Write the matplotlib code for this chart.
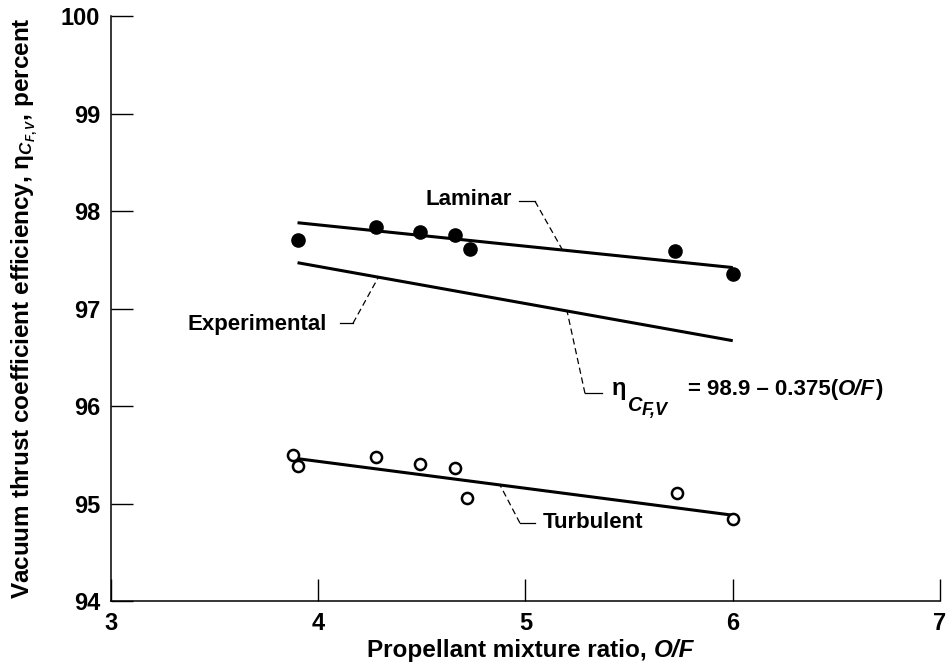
import matplotlib
matplotlib.use("Agg")
import matplotlib.pyplot as plt

plt.rcParams['font.family'] = ['Liberation Sans', 'DejaVu Sans']
plt.rcParams['font.weight'] = 'bold'
plt.rcParams['axes.labelweight'] = 'bold'
plt.rcParams['mathtext.fontset'] = 'custom'
plt.rcParams['mathtext.rm'] = 'Liberation Sans:bold'
plt.rcParams['mathtext.it'] = 'Liberation Sans:bold:italic'
plt.rcParams['mathtext.bf'] = 'Liberation Sans:bold'

# Laminar data (filled symbols)
lam_of = [3.90, 4.28, 4.49, 4.66, 4.73, 5.72, 6.00]
lam_eff = [97.70, 97.84, 97.78, 97.75, 97.61, 97.59, 97.35]

# Turbulent data (open symbols)
turb_of = [3.88, 3.90, 4.28, 4.49, 4.66, 4.72, 5.73, 6.00]
turb_eff = [95.50, 95.38, 95.48, 95.41, 95.36, 95.06, 95.11, 94.84]

# Fitted lines (end points)
lam_fit_of = [3.90, 6.00]
lam_fit_eff = [97.88, 97.42]
exp_fit_of = [3.90, 6.00]
exp_fit_eff = [97.47, 96.67]
turb_fit_of = [3.90, 6.00]
turb_fit_eff = [95.46, 94.88]

x_ticks = [3, 4, 5, 6, 7]
y_ticks = [94, 95, 96, 97, 98, 99, 100]

fig = plt.figure(figsize=(9.47, 6.68), dpi=100)
ax = fig.add_axes([0.1172, 0.1003, 0.8754, 0.8757])

lw = 2.2
ax.plot(lam_fit_of, lam_fit_eff, color='black', lw=lw, solid_capstyle='butt')
ax.plot(exp_fit_of, exp_fit_eff, color='black', lw=lw, solid_capstyle='butt')
ax.plot(turb_fit_of, turb_fit_eff, color='black', lw=lw, solid_capstyle='butt')

ax.plot(lam_of, lam_eff, 'o', ms=9.5, color='black', zorder=3)
ax.plot(turb_of, turb_eff, 'o', ms=8, mfc='white', mec='black', mew=1.8, zorder=3)

ax.set_xlim(3, 7)
ax.set_ylim(94, 100)
ax.set_xticks(x_ticks)
ax.set_yticks(y_ticks)
ax.tick_params(direction='in', length=15.8, width=1.0, labelsize=17, pad=8)
ax.spines['top'].set_visible(False)
ax.spines['right'].set_visible(False)
for s in ['left', 'bottom']:
    ax.spines[s].set_linewidth(1.1)

# x label in two pieces so O/F can be italic without mathtext
xl = ax.text(0.309, -0.0957, 'Propellant mixture ratio, ', fontsize=17.5,
             transform=ax.transAxes, ha='left', va='baseline')
ax.annotate('O/F', xy=(1, 0), xycoords=xl, fontsize=17.5, style='italic',
            ha='left', va='bottom')

ax.set_ylabel(r'Vacuum thrust coefficient efficiency, $\mathrm{\eta}_{C_{F,V}}$, percent',
              fontsize=17.5, labelpad=15)

# leaders: short solid tick + dashed line
def leader(pts_solid, pts_dash):
    xs, ys = zip(*pts_solid)
    ax.plot(xs, ys, color='black', lw=0.9)
    xs, ys = zip(*pts_dash)
    ax.plot(xs, ys, color='black', lw=0.9, dashes=(5, 3))

ax.text(4.935, 98.12, 'Laminar', fontsize=16, ha='right', va='center')
leader([(4.97, 98.10), (5.046, 98.10)], [(5.046, 98.10), (5.176, 97.61)])

ax.text(4.04, 96.84, 'Experimental', fontsize=16, ha='right', va='center')
leader([(4.105, 96.85), (4.168, 96.85)], [(4.168, 96.85), (4.29, 97.32)])

# formula: eta with subscripts, plain text, italic O/F
ax.text(5.417, 96.11, 'η', fontsize=17, ha='left', va='baseline')
ax.text(5.488, 95.95, 'C', fontsize=14.5, style='italic', ha='left', va='baseline')
ax.text(5.562, 95.91, 'F,V', fontsize=13, style='italic', ha='left', va='baseline')
eq = ax.text(5.785, 96.11, '= 98.9 – 0.375(', fontsize=16, ha='left', va='baseline')
of = ax.annotate('O/F', xy=(1, 0), xycoords=eq, fontsize=16, style='italic',
                 ha='left', va='bottom')
ax.annotate(')', xy=(1, 0), xycoords=of, fontsize=16, ha='left', va='bottom')
leader([(5.287, 96.13), (5.369, 96.13)], [(5.287, 96.13), (5.20, 96.98)])

ax.text(5.085, 94.81, 'Turbulent', fontsize=16, ha='left', va='center')
leader([(4.973, 94.80), (5.046, 94.80)], [(4.973, 94.80), (4.877, 95.19)])

fig.savefig('out.png', dpi=100)
